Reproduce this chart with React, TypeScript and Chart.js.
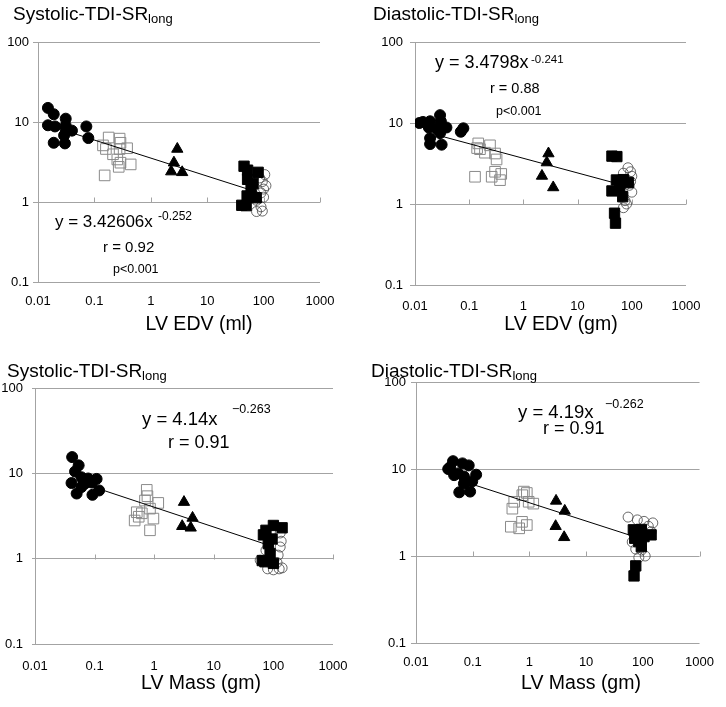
import React, { useEffect, useRef } from "react";
import { Chart, registerables } from "chart.js";

Chart.register(...registerables);

const FONT = '"Liberation Sans", Arial, Helvetica, sans-serif';

// ---------- shared axis values ----------
const xTickValues = [0.01, 0.1, 1, 10, 100, 1000];
const yTickValues = [0.1, 1, 10, 100];
const xCrossTicks = [0.1, 1, 10, 100, 1000];

// ---------- Panel A: Systolic vs LV EDV (ml) ----------
const sysEdvFilledCircles = [[0.015, 15], [0.019, 12.5], [0.015, 9.1], [0.02, 8.8], [0.031, 11], [0.031, 9], [0.031, 8], [0.04, 7.8], [0.029, 6.8], [0.019, 5.5], [0.03, 5.4], [0.072, 8.8], [0.078, 6.3]];
const sysEdvOpenSquares = [[0.142, 5.1], [0.179, 6.4], [0.16, 4.6], [0.214, 3.95], [0.28, 6.2], [0.29, 5.5], [0.28, 4.6], [0.38, 4.7], [0.255, 3.4], [0.29, 3.1], [0.44, 2.95], [0.27, 2.75], [0.152, 2.15]];
const sysEdvTriangles = [[2.95, 4.6], [2.57, 3.1], [2.3, 2.4], [3.6, 2.35]];
const sysEdvFilledSquares = [[45, 2.8], [52, 2.5], [80, 2.35], [52, 1.92], [65, 1.7], [60, 1.5], [51, 1.19], [74, 1.13], [41, 0.91], [49, 0.9]];
const sysEdvOpenCircles = [[105, 2.2], [95, 1.8], [110, 1.6], [100, 1.45], [90, 1.3], [75, 1.05], [90, 0.87], [75, 0.76], [95, 0.77], [85, 2.0], [100, 1.15]];
const sysEdvTrend = [[0.03, 7.8], [85, 1.3]];

// ---------- Panel B: Diastolic vs LV EDV (gm) ----------
const diaEdvFilledCircles = [[0.012, 10], [0.014, 10.3], [0.019, 10.5], [0.029, 12.5], [0.03, 10.5], [0.038, 8.8], [0.018, 8.8], [0.019, 6.5], [0.019, 5.5], [0.029, 7.5], [0.031, 5.4], [0.07, 7.8], [0.078, 8.6], [0.025, 8.5]];
const diaEdvOpenSquares = [[0.147, 5.6], [0.158, 4.75], [0.242, 5.3], [0.195, 4.3], [0.3, 4.2], [0.32, 3.55], [0.128, 2.17], [0.26, 2.17], [0.3, 2.5], [0.39, 2.35], [0.37, 1.97], [0.14, 4.9]];
const diaEdvTriangles = [[2.9, 4.2], [2.7, 3.25], [2.2, 2.22], [3.55, 1.6]];
const diaEdvFilledSquares = [[43, 3.9], [53, 3.85], [52, 1.98], [70, 2.0], [86, 1.83], [43, 1.45], [60, 1.6], [68, 1.23], [48, 0.77], [50, 0.58]];
const diaEdvOpenCircles = [[85, 2.8], [95, 2.5], [100, 2.2], [80, 2.0], [90, 1.7], [100, 1.4], [75, 1.1], [80, 1.0], [70, 0.9], [95, 1.9], [70, 2.4]];
const diaEdvTrend = [[0.03, 6.9], [60, 1.75]];

// ---------- Panel C: Systolic vs LV Mass (gm) ----------
const sysMassFilledCircles = [[0.042, 15.5], [0.054, 12.4], [0.047, 10.5], [0.06, 9.0], [0.041, 7.7], [0.078, 8.7], [0.108, 8.6], [0.069, 7.6], [0.119, 6.3], [0.05, 5.8], [0.092, 5.6], [0.06, 6.9], [0.09, 7.8]];
const sysMassOpenSquares = [[0.75, 6.4], [0.77, 5.4], [0.7, 4.8], [1.17, 4.5], [0.85, 3.86], [0.51, 3.5], [0.62, 3.4], [0.47, 2.8], [0.97, 2.95], [0.55, 3.1], [0.85, 2.15]];
const sysMassTriangles = [[3.16, 4.6], [4.4, 3.0], [2.95, 2.4], [4.1, 2.3]];
const sysMassFilledSquares = [[100, 2.45], [75, 2.15], [140, 2.3], [68, 1.9], [95, 1.7], [82, 1.5], [88, 1.15], [72, 0.92], [100, 0.88], [65, 0.95]];
const sysMassOpenCircles = [[80, 0.76], [100, 0.74], [125, 0.76], [130, 1.37], [135, 1.6], [130, 2.0], [120, 1.1], [75, 1.25], [60, 0.96], [115, 0.9], [140, 0.78]];
const sysMassTrend = [[0.06, 7.7], [80, 1.45]];

// ---------- Panel D: Diastolic vs LV Mass (gm) ----------
const diaMassFilledCircles = [[0.045, 12.3], [0.037, 10], [0.066, 11.6], [0.085, 11], [0.115, 8.6], [0.055, 8.9], [0.07, 8.2], [0.047, 8.5], [0.07, 6.8], [0.058, 5.4], [0.09, 5.5], [0.098, 7.2], [0.04, 10.5]];
const diaMassOpenSquares = [[0.8, 5.5], [0.75, 5.0], [0.9, 5.3], [0.54, 4.2], [0.5, 3.5], [1.17, 4.0], [0.97, 4.2], [0.47, 2.17], [0.66, 2.08], [0.9, 2.27], [0.74, 2.47]];
const diaMassTriangles = [[2.95, 4.3], [4.2, 3.3], [2.9, 2.2], [4.1, 1.64]];
const diaMassFilledSquares = [[68, 2.0], [94, 2.02], [140, 1.75], [72, 1.6], [94, 1.28], [85, 1.46], [75, 0.77], [70, 0.59], [105, 1.67]];
const diaMassOpenCircles = [[55, 2.8], [80, 2.6], [105, 2.5], [150, 2.4], [125, 2.2], [65, 1.45], [95, 1.17], [85, 0.96], [110, 1.0], [75, 1.2], [140, 1.9]];
const diaMassTrend = [[0.06, 7.4], [65, 1.7]];

// ---------- texts ----------
const titleSystolic = "Systolic-TDI-SR";
const titleDiastolic = "Diastolic-TDI-SR";
const titleSub = "long";
const axisEdvMl = "LV EDV (ml)";
const axisEdvGm = "LV EDV (gm)";
const axisMass = "LV Mass (gm)";

type Pt = number[];
type TextItem = { text: string; x: number; y: number; size: number; align?: CanvasTextAlign };

interface PanelDef {
  left: number; top: number; w: number; h: number;
  area: { left: number; right: number; top: number; bottom: number };
  yTickLen: number; yTickPad: number; xTickPad: number;
  filledCircles: Pt[]; openSquares: Pt[]; triangles: Pt[]; filledSquares: Pt[]; openCircles: Pt[]; trend: Pt[];
  title: string; titleX: number; titleY: number;
  axisTitle: string; axisX: number; axisY: number;
  texts: TextItem[];
}

const panels: PanelDef[] = [
  {
    left: 0, top: 0, w: 363, h: 340,
    area: { left: 38, right: 320, top: 42, bottom: 282 },
    yTickLen: 5, yTickPad: 4, xTickPad: 12,
    filledCircles: sysEdvFilledCircles, openSquares: sysEdvOpenSquares, triangles: sysEdvTriangles,
    filledSquares: sysEdvFilledSquares, openCircles: sysEdvOpenCircles, trend: sysEdvTrend,
    title: titleSystolic, titleX: 13, titleY: 20,
    axisTitle: axisEdvMl, axisX: 199, axisY: 330,
    texts: [
      { text: "y = 3.42606x", x: 55, y: 227, size: 17 },
      { text: "-0.252", x: 158, y: 220, size: 12 },
      { text: "r = 0.92", x: 103, y: 252, size: 15 },
      { text: "p<0.001", x: 113, y: 273, size: 12.5 },
    ],
  },
  {
    left: 363, top: 0, w: 363, h: 340,
    area: { left: 52, right: 323, top: 42, bottom: 285 },
    yTickLen: 5, yTickPad: 7, xTickPad: 14,
    filledCircles: diaEdvFilledCircles, openSquares: diaEdvOpenSquares, triangles: diaEdvTriangles,
    filledSquares: diaEdvFilledSquares, openCircles: diaEdvOpenCircles, trend: diaEdvTrend,
    title: titleDiastolic, titleX: 10, titleY: 20,
    axisTitle: axisEdvGm, axisX: 198, axisY: 330,
    texts: [
      { text: "y = 3.4798x", x: 72, y: 68, size: 18 },
      { text: "-0.241", x: 168, y: 63, size: 11.5 },
      { text: "r = 0.88", x: 127, y: 93, size: 14.5 },
      { text: "p<0.001", x: 133, y: 115, size: 12.5 },
    ],
  },
  {
    left: 0, top: 340, w: 363, h: 367,
    area: { left: 35, right: 333, top: 48, bottom: 304 },
    yTickLen: 3, yTickPad: 9, xTickPad: 15,
    filledCircles: sysMassFilledCircles, openSquares: sysMassOpenSquares, triangles: sysMassTriangles,
    filledSquares: sysMassFilledSquares, openCircles: sysMassOpenCircles, trend: sysMassTrend,
    title: titleSystolic, titleX: 7, titleY: 37,
    axisTitle: axisMass, axisX: 201, axisY: 349,
    texts: [
      { text: "y = 4.14x", x: 142, y: 85, size: 18.5 },
      { text: "\u22120.263", x: 232, y: 73, size: 12.5 },
      { text: "r = 0.91", x: 168, y: 108, size: 18 },
    ],
  },
  {
    left: 363, top: 340, w: 363, h: 367,
    area: { left: 53, right: 347, top: 42, bottom: 303 },
    yTickLen: 5, yTickPad: 5, xTickPad: 12,
    filledCircles: diaMassFilledCircles, openSquares: diaMassOpenSquares, triangles: diaMassTriangles,
    filledSquares: diaMassFilledSquares, openCircles: diaMassOpenCircles, trend: diaMassTrend,
    title: titleDiastolic, titleX: 8, titleY: 37,
    axisTitle: axisMass, axisX: 218, axisY: 349,
    texts: [
      { text: "y = 4.19x", x: 155, y: 78, size: 18.5 },
      { text: "\u22120.262", x: 242, y: 68, size: 12.5 },
      { text: "r = 0.91", x: 180, y: 94, size: 18 },
    ],
  },
];

const toXY = (pts: Pt[]) => pts.map(([x, y]) => ({ x, y }));
const GRID = "#a3a3a3";

function makePlugin(p: PanelDef) {
  return {
    id: "panelText",
    beforeDatasetsDraw(chart: any) {
      const { ctx, scales } = chart;
      const xs = scales.x, ys = scales.y;
      const y1 = Math.round(ys.getPixelForValue(1)) + 0.5;
      ctx.save();
      ctx.strokeStyle = GRID;
      ctx.lineWidth = 1;
      xCrossTicks.forEach((v) => {
        const px = Math.round(xs.getPixelForValue(v)) + 0.5;
        ctx.beginPath();
        ctx.moveTo(px, y1);
        ctx.lineTo(px, y1 - 5);
        ctx.stroke();
      });
      ctx.restore();
    },
    afterDraw(chart: any) {
      const ctx: CanvasRenderingContext2D = chart.ctx;
      ctx.save();
      ctx.fillStyle = "#000";
      ctx.textBaseline = "alphabetic";
      // title with subscript
      ctx.textAlign = "left";
      ctx.font = `19px ${FONT}`;
      ctx.fillText(p.title, p.titleX, p.titleY);
      const tw = ctx.measureText(p.title).width;
      ctx.font = `13px ${FONT}`;
      ctx.fillText(titleSub, p.titleX + tw, p.titleY + 3);
      // equation texts
      p.texts.forEach((t) => {
        ctx.font = `${t.size}px ${FONT}`;
        ctx.textAlign = t.align || "left";
        ctx.fillText(t.text, t.x, t.y);
      });
      // axis title
      ctx.font = `19.5px ${FONT}`;
      ctx.textAlign = "center";
      ctx.fillText(p.axisTitle, p.axisX, p.axisY);
      ctx.restore();
    },
  };
}

function makeConfig(p: PanelDef): any {
  const tickFont = { family: FONT, size: 13 };
  return {
    type: "scatter",
    data: {
      datasets: [
        { data: toXY(p.trend), showLine: true, borderColor: "#000", borderWidth: 1, pointRadius: 0, fill: false },
        { data: toXY(p.filledCircles), pointStyle: "circle", pointRadius: 5.5, backgroundColor: "#000", borderColor: "#000", borderWidth: 1 },
        { data: toXY(p.triangles), pointStyle: "triangle", pointRadius: 6.5, backgroundColor: "#000", borderColor: "#000", borderWidth: 1 },
        { data: toXY(p.filledSquares), pointStyle: "rect", pointRadius: 7.3, backgroundColor: "#000", borderColor: "#000", borderWidth: 1 },
        { data: toXY(p.openCircles), pointStyle: "circle", pointRadius: 5, backgroundColor: "rgba(0,0,0,0)", borderColor: "#444", borderWidth: 0.8 },
        { data: toXY(p.openSquares), pointStyle: "rect", pointRadius: 7.5, backgroundColor: "rgba(0,0,0,0)", borderColor: "#8a8a8a", borderWidth: 1 },
      ],
    },
    options: {
      animation: false,
      responsive: false,
      maintainAspectRatio: false,
      events: [],
      layout: { padding: { left: 0, top: p.area.top, right: p.w - p.area.right, bottom: 0 } },
      plugins: { legend: { display: false }, tooltip: { enabled: false }, title: { display: false } },
      scales: {
        x: {
          type: "logarithmic",
          position: "bottom",
          min: 0.01,
          max: 1000,
          grid: { display: false, drawTicks: false, tickLength: 0 },
          border: { display: false },
          ticks: { padding: p.xTickPad, color: "#000", font: tickFont, autoSkip: false, maxRotation: 0, minRotation: 0, callback: (v: number) => String(v) },
          afterBuildTicks: (s: any) => { s.ticks = xTickValues.map((v) => ({ value: v })); },
          afterFit: (s: any) => { s.height = p.h - p.area.bottom; },
        },
        y: {
          type: "logarithmic",
          position: "left",
          min: 0.1,
          max: 100,
          grid: { color: GRID, lineWidth: 1, drawTicks: true, tickLength: p.yTickLen },
          border: { display: true, color: GRID, width: 1 },
          ticks: { padding: p.yTickPad, color: "#000", font: tickFont, autoSkip: false, callback: (v: number) => String(v) },
          afterBuildTicks: (s: any) => { s.ticks = yTickValues.map((v) => ({ value: v })); },
          afterFit: (s: any) => { s.width = p.area.left; },
        },
      },
    },
    plugins: [makePlugin(p)],
  };
}

function Panel({ p }: { p: PanelDef }) {
  const ref = useRef<HTMLCanvasElement | null>(null);
  useEffect(() => {
    if (!ref.current) return;
    const chart = new Chart(ref.current, makeConfig(p));
    return () => chart.destroy();
  }, [p]);
  return (
    <canvas
      ref={ref}
      width={p.w}
      height={p.h}
      style={{ position: "absolute", left: p.left, top: p.top, width: p.w, height: p.h }}
    />
  );
}

export default function App() {
  return (
    <div style={{ position: "absolute", left: 0, top: 0, width: 726, height: 707, background: "#fff", overflow: "hidden" }}>
      {panels.map((p, i) => (
        <Panel key={i} p={p} />
      ))}
    </div>
  );
}
